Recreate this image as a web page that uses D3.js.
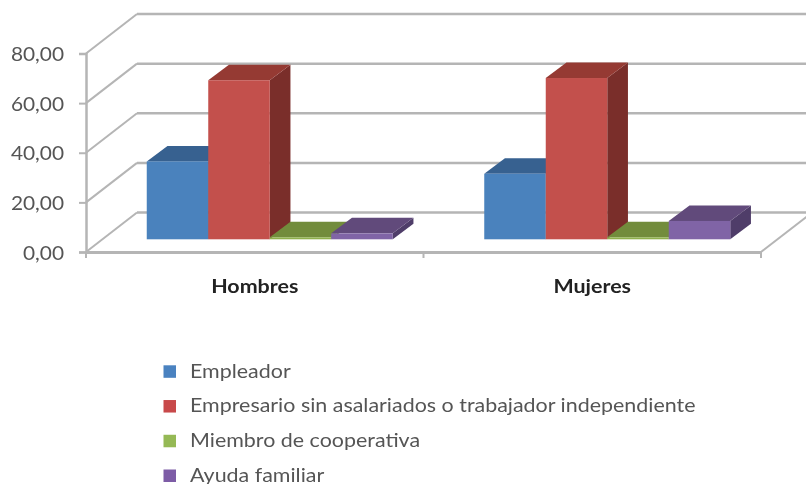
<!DOCTYPE html>
<html>
<head>
<meta charset="utf-8">
<script src="https://cdn.jsdelivr.net/npm/d3@7"></script>
<style>
  html, body { margin: 0; padding: 0; background: #fff; overflow: hidden; }
  svg { display: block; filter: blur(0.7px); }
  text { font-family: Lato, "Open Sans", sans-serif; }
</style>
</head>
<body>
<script>
// Values
const categories = ["Hombres", "Mujeres"];
const seriesNames = ["Empleador", "Empresario sin asalariados o trabajador independiente", "Miembro de cooperativa", "Ayuda familiar"];
const empleador = [31.4, 26.4];
const empresario = [64.1, 65.0];
const cooperativa = [0.8, 0.8];
const ayuda = [2.4, 7.4];
const yTicks = [0, 20, 40, 60, 80];

const seriesValues = [empleador, empresario, cooperativa, ayuda];
const frontColors = ["#4a82bd", "#c3504c", "#8fb04e", "#8064a6"];
const topColors = ["#376190", "#953a33", "#728c3c", "#614a7b"];
const sideColors = ["#2f5480", "#7a2e2a", "#5f7632", "#4f3d69"];
const legendColors = ["#4a82c0", "#c8494a", "#95b955", "#7d5ca6"];

const width = 806;
const height = 484;

// Front plane of the 3D box
const plotLeft = 86, plotRight = 761, plotBottom = 252, plotTop = 53.5;
// Offset of the back wall from the front plane
const wallDx = 51, wallDy = 39.5;
// Where the bars stand on the floor, and how deep they are
const baseDx = 15, baseDy = 12.7;
const barDx = 20.7, barDy = 15.5;
// The reference text is wider than it is tall
const textStretch = 1.128;

const svg = d3.select("body").append("svg")
  .attr("width", width)
  .attr("height", height);

const y = d3.scaleLinear().domain([0, 80]).range([plotBottom, plotTop]);
const x0 = d3.scaleBand().domain(categories).range([plotLeft, plotRight]);
const x1 = d3.scaleBand().domain(seriesNames).range([0, 246]);

const gridColor = "#b5b5b5";

// Back wall lines
svg.append("g").selectAll("line")
  .data(yTicks)
  .enter().append("line")
  .attr("x1", plotLeft + wallDx)
  .attr("x2", width)
  .attr("y1", d => y(d) - wallDy)
  .attr("y2", d => y(d) - wallDy)
  .attr("stroke", gridColor)
  .attr("stroke-width", 2.5);

// Side wall lines
svg.append("g").selectAll("line")
  .data(yTicks)
  .enter().append("line")
  .attr("x1", plotLeft)
  .attr("x2", plotLeft + wallDx)
  .attr("y1", d => y(d))
  .attr("y2", d => y(d) - wallDy)
  .attr("stroke", gridColor)
  .attr("stroke-width", 2);

// Right edge of the floor
svg.append("line")
  .attr("x1", plotRight)
  .attr("x2", plotRight + wallDx)
  .attr("y1", y(0))
  .attr("y2", y(0) - wallDy)
  .attr("stroke", gridColor)
  .attr("stroke-width", 2);

// Axes
const yAxis = d3.axisLeft(y)
  .tickValues(yTicks)
  .tickSize(7)
  .tickFormat(d => d3.format(".2f")(d).replace(".", ","));

const yG = svg.append("g")
  .attr("transform", `translate(${plotLeft},0)`)
  .call(yAxis);

yG.select(".domain")
  .attr("stroke", gridColor)
  .attr("stroke-width", 2.5);
yG.selectAll(".tick line")
  .attr("stroke", gridColor)
  .attr("stroke-width", 2);
yG.selectAll(".tick text")
  .attr("x", 0)
  .attr("dy", "0.38em")
  .attr("transform", `translate(-22,0) scale(${textStretch},1)`)
  .attr("fill", "#555")
  .style("font-size", "18.5px");

const xAxis = d3.axisBottom(x0)
  .tickSize(0)
  .tickPadding(28);

const xG = svg.append("g")
  .attr("transform", `translate(0,${plotBottom})`)
  .call(xAxis);

xG.select(".domain")
  .attr("stroke", gridColor)
  .attr("stroke-width", 3);
xG.selectAll(".tick text")
  .attr("transform", `scale(${textStretch},1)`)
  .attr("fill", "#222")
  .attr("font-weight", "bold")
  .style("font-size", "19px");

// Little ticks between the categories
svg.append("g").selectAll("line")
  .data([plotLeft, x0("Mujeres"), plotRight])
  .enter().append("line")
  .attr("x1", d => d)
  .attr("x2", d => d)
  .attr("y1", plotBottom)
  .attr("y2", plotBottom + 6)
  .attr("stroke", gridColor)
  .attr("stroke-width", 2);

// Bars, one series at a time so each one covers the side of the last
const poly = d3.line();

categories.forEach((cat, c) => {
  const g = svg.append("g");
  const groupLeft = x0(cat) + (x0.bandwidth() - 246) / 2 + baseDx;

  seriesNames.forEach((name, s) => {
    const xa = groupLeft + x1(name);
    const xb = xa + x1.bandwidth();
    const yBase = y(0) - baseDy;
    const yTop = y(seriesValues[s][c]) - baseDy;

    g.append("path")
      .attr("d", poly([[xb, yBase], [xb + barDx, yBase - barDy], [xb + barDx, yTop - barDy], [xb, yTop]]) + "Z")
      .attr("fill", sideColors[s]);

    g.append("path")
      .attr("d", poly([[xa, yTop], [xa + barDx, yTop - barDy], [xb + barDx, yTop - barDy], [xb, yTop]]) + "Z")
      .attr("fill", topColors[s]);

    g.append("rect")
      .attr("x", xa)
      .attr("y", yTop)
      .attr("width", xb - xa)
      .attr("height", yBase - yTop)
      .attr("fill", frontColors[s]);
  });
});

// Legend
const legendY = d3.scalePoint().domain(seriesNames).range([371.5, 475.7]);

const legend = svg.append("g").selectAll("g")
  .data(seriesNames)
  .enter().append("g")
  .attr("transform", d => `translate(163.5,${legendY(d)})`);

legend.append("rect")
  .attr("x", 0)
  .attr("y", -6.2)
  .attr("width", 12.5)
  .attr("height", 12.5)
  .attr("fill", (d, i) => legendColors[i]);

legend.append("text")
  .attr("transform", `translate(26.5,0) scale(${textStretch},1)`)
  .attr("dy", "0.32em")
  .attr("fill", "#555")
  .style("font-size", "19px")
  .text(d => d);
</script>
</body>
</html>
